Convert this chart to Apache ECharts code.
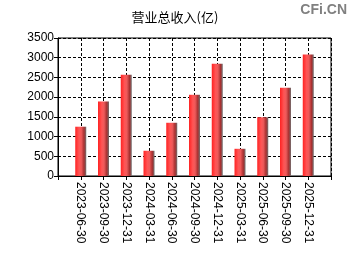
<!DOCTYPE html>
<html><head><meta charset="utf-8">
<script src="https://cdn.jsdelivr.net/npm/echarts@6/dist/echarts.min.js"></script>
<style>html,body{margin:0;padding:0;background:#fff}#c{width:350px;height:260px}</style>
</head><body><div id="c"></div>
<script>
var categories = ['2023-06-30','2023-09-30','2023-12-31','2024-03-31','2024-06-30','2024-09-30','2024-12-31','2025-03-31','2025-06-30','2025-09-30','2025-12-31'];
var revenue = [1250, 1890, 2570, 640, 1350, 2060, 2850, 690, 1490, 2240, 3080];
var yTicks = [0, 500, 1000, 1500, 2000, 2500, 3000, 3500];

var axisCats = [''].concat(categories).concat(['']);
var axisData = [null].concat(revenue).concat([null]);

var chart = echarts.init(document.getElementById('c'));
chart.setOption({
  animation: false,
  backgroundColor: '#fff',
  title: {
    text: '营业总收入(亿)', left: 'center', top: 6,
    textStyle: {fontSize: 13, fontWeight: 'normal', color: '#000', fontFamily: 'Noto Sans CJK SC'}
  },
  graphic: [{
    type: 'text', right: 3, top: 3,
    style: {text: 'CFi.CN', fill: '#808080', font: 'bold 14px "Liberation Sans"'}
  }],
  grid: {left: 58, right: 19, top: 38, bottom: 84, show: true, borderColor: '#000', borderWidth: 1},
  xAxis: {
    type: 'category', data: axisCats, boundaryGap: false,
    axisLine: {lineStyle: {color: '#000', width: 1}},
    axisTick: {show: true, inside: false, length: 4, lineStyle: {color: '#000'}},
    splitLine: {show: true, lineStyle: {color: '#000', type: [3, 2], width: 1}},
    axisLabel: {rotate: -90, color: '#000', fontSize: 12, fontFamily: 'Liberation Sans', margin: 6, interval: 0}
  },
  yAxis: {
    type: 'value', min: 0, max: 3500, interval: 500,
    axisLine: {show: true, lineStyle: {color: '#000', width: 1}},
    axisTick: {show: true, length: 4, lineStyle: {color: '#000'}},
    splitLine: {show: true, lineStyle: {color: '#000', type: [3, 2], width: 1}},
    axisLabel: {color: '#000', fontSize: 12, fontFamily: 'Liberation Sans', margin: 4,
      formatter: function(v){ return yTicks.indexOf(v) >= 0 ? String(v) : ''; }}
  },
  series: [{
    type: 'bar', data: axisData, barWidth: 11,
    itemStyle: {
      color: new echarts.graphic.LinearGradient(0, 0, 1, 0, [
        {offset: 0, color: '#ff2222'},
        {offset: 0.35, color: '#ff5555'},
        {offset: 0.55, color: '#ee5a5a'},
        {offset: 0.8, color: '#a83030'},
        {offset: 1, color: '#707070'}
      ])
    }
  }]
});
</script></body></html>
